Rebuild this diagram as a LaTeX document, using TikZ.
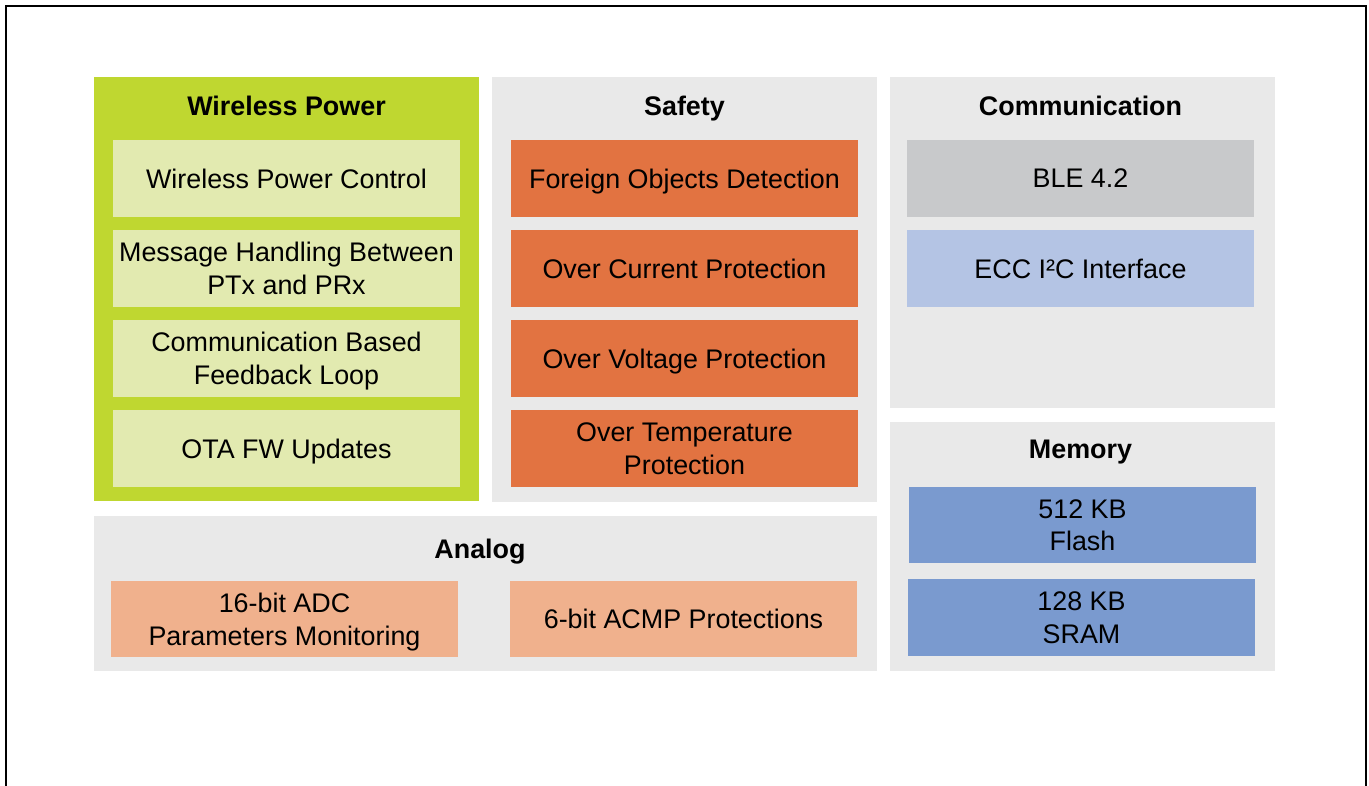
\documentclass[tikz,border=0pt]{standalone}
\usepackage{fontspec}
\setmainfont{Liberation Sans}
\definecolor{wpgreen}{RGB}{191,215,48}
\definecolor{wplight}{RGB}{226,234,176}
\definecolor{panelgray}{RGB}{233,233,233}
\definecolor{safeorange}{RGB}{226,115,65}
\definecolor{blegray}{RGB}{200,201,203}
\definecolor{eccblue}{RGB}{180,196,228}
\definecolor{memblue}{RGB}{122,154,207}
\definecolor{anasalmon}{RGB}{240,177,141}

\begin{document}
\begin{tikzpicture}[x=0.02cm,y=-0.02cm,
    txt/.style={font=\fontsize{15.3}{18.6}\selectfont, align=center, inner sep=0pt, text depth=0pt},
    ttl/.style={txt, font=\fontsize{15.3}{18.6}\selectfont\bfseries},
    blk/.style={txt, minimum width=6.94cm, minimum height=1.54cm}]
    \useasboundingbox (0,0) rectangle (1369,786);
    \draw[line width=0.04cm] (6,786) -- (6,6) -- (1366,6) -- (1366,786);
    \fill[wpgreen] (94,77) rectangle (479,501);
    \fill[panelgray] (492,77) rectangle (877,502);
    \fill[panelgray] (890,77) rectangle (1275,408);
    \fill[panelgray] (890,422) rectangle (1275,671);
    \fill[panelgray] (94,516) rectangle (877,671);
    \node[ttl] (wptitle) at (286.5,106) {Wireless Power};
    \node[ttl] (safetytitle) at (684.5,106) {Safety};
    \node[ttl] (commtitle) at (1080.5,106) {Communication};
    \node[ttl] (memtitle) at (1080.5,449) {Memory};
    \node[ttl] (anatitle) at (480,549) {Analog};
    \node[blk, fill=wplight] (wpctrl) at (286.5,178.5) {Wireless Power Control};
    \node[blk, fill=wplight] (msg) at (286.5,268.5) {Message Handling Between\\PTx and PRx};
    \node[blk, fill=wplight] (fbloop) at (286.5,358.5) {Communication Based\\Feedback Loop};
    \node[blk, fill=wplight] (ota) at (286.5,448.5) {OTA FW Updates};
    \node[blk, fill=safeorange] (fod) at (684.5,178.5) {Foreign Objects Detection};
    \node[blk, fill=safeorange] (ocp) at (684.5,268.5) {Over Current Protection};
    \node[blk, fill=safeorange] (ovp) at (684.5,358.5) {Over Voltage Protection};
    \node[blk, fill=safeorange] (otp) at (684.5,448.5) {Over Temperature\\Protection};
    \node[blk, fill=blegray] (ble) at (1080.5,178.5) {BLE 4.2};
    \node[blk, fill=eccblue] (ecc) at (1080.5,268.5) {ECC I²C Interface};
    \node[blk, fill=memblue] (flash) at (1082.5,525) {512 KB\\Flash};
    \node[blk, fill=memblue] (sram) at (1081.5,617.5) {128 KB\\SRAM};
    \node[blk, fill=anasalmon] (adc) at (284.5,619) {16-bit ADC\\Parameters Monitoring};
    \node[blk, fill=anasalmon] (acmp) at (683.5,619) {6-bit ACMP Protections};
\end{tikzpicture}
\end{document}
